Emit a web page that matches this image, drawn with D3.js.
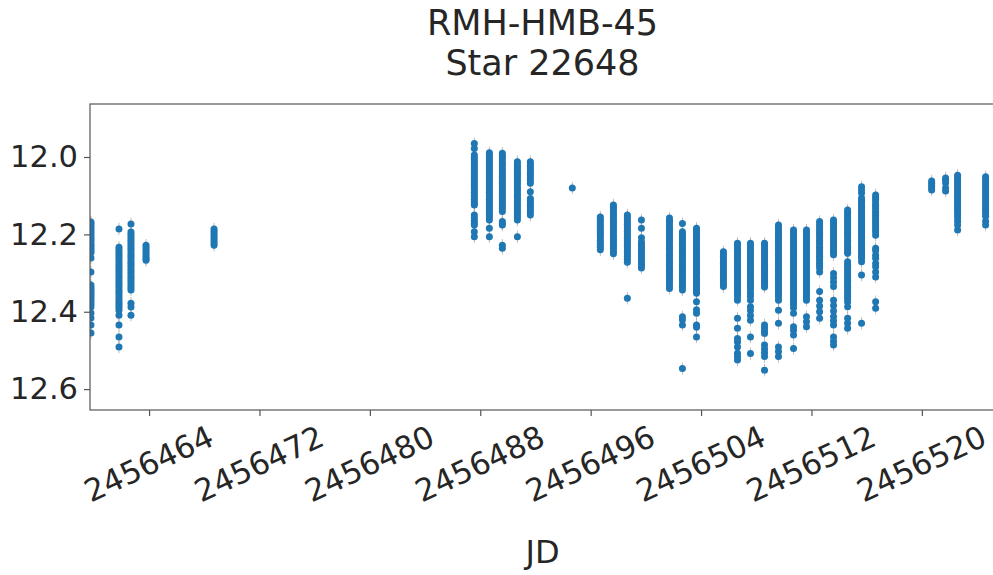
<!DOCTYPE html>
<html>
<head>
<meta charset="utf-8">
<script src="https://cdn.jsdelivr.net/npm/d3@7"></script>
<style>
  html, body { margin: 0; padding: 0; background: #ffffff; }
  svg { display: block; }
  text { font-family: "DejaVu Sans", sans-serif; fill: #262626; }
</style>
</head>
<body>
<svg id="chart" width="993" height="575"></svg>
<script>
// Light curve of star 22648 (field RMH-HMB-45): one entry per observing night.
const titleLines = ["RMH-HMB-45", "Star 22648"];
const xLabel = "JD";

const xTicks = [2456464, 2456472, 2456480, 2456488, 2456496, 2456504, 2456512, 2456520];
const yTicks = [12.0, 12.2, 12.4, 12.6];

// Julian date of each night
const nightJD = [
  2456459.79, 2456461.82, 2456462.69, 2456463.78, 2456468.71,
  2456487.57, 2456488.66, 2456489.60, 2456490.69, 2456491.63,
  2456494.67, 2456496.70, 2456497.65, 2456498.66, 2456499.68,
  2456501.71, 2456502.65, 2456503.67, 2456505.62, 2456506.64,
  2456507.58, 2456508.60, 2456509.61, 2456510.70, 2456511.64,
  2456512.59, 2456513.60, 2456514.62, 2456515.63, 2456516.65,
  2456520.71, 2456521.72, 2456522.59, 2456524.62
];

// Magnitudes measured during each night
const nightMags = [
  [12.168,12.172,12.177,12.183,12.188,12.194,12.199,12.205,12.211,12.216,12.222,12.228,12.233,12.239,12.244,12.248,12.261,12.297,12.331,12.336,12.342,12.347,12.353,12.358,12.364,12.369,12.375,12.381,12.388,12.403,12.416,12.434,12.455],
  [12.186,12.233,12.239,12.245,12.251,12.257,12.263,12.269,12.275,12.281,12.287,12.293,12.299,12.305,12.311,12.317,12.323,12.329,12.335,12.341,12.347,12.353,12.359,12.366,12.372,12.378,12.384,12.390,12.396,12.409,12.434,12.465,12.491],
  [12.173,12.194,12.200,12.206,12.212,12.218,12.224,12.230,12.236,12.242,12.248,12.254,12.260,12.266,12.272,12.278,12.284,12.290,12.296,12.302,12.308,12.314,12.320,12.326,12.332,12.338,12.344,12.378,12.388,12.409],
  [12.228,12.234,12.240,12.246,12.252,12.258,12.263,12.267],
  [12.186,12.192,12.198,12.204,12.210,12.216,12.222,12.228],
  [11.965,11.978,11.995,12.001,12.007,12.013,12.019,12.025,12.031,12.037,12.043,12.049,12.055,12.061,12.067,12.073,12.079,12.085,12.091,12.097,12.103,12.109,12.115,12.121,12.124,12.150,12.157,12.164,12.171,12.176,12.193,12.206],
  [11.989,11.995,12.001,12.007,12.013,12.019,12.025,12.031,12.037,12.043,12.049,12.055,12.061,12.067,12.073,12.079,12.085,12.091,12.097,12.103,12.109,12.115,12.121,12.127,12.133,12.139,12.145,12.151,12.157,12.163,12.184,12.206],
  [11.990,11.996,12.002,12.008,12.014,12.020,12.026,12.032,12.038,12.044,12.050,12.056,12.062,12.068,12.074,12.080,12.086,12.092,12.098,12.104,12.110,12.116,12.122,12.128,12.134,12.141,12.167,12.172,12.176,12.228,12.236],
  [12.012,12.018,12.024,12.030,12.036,12.042,12.048,12.054,12.060,12.066,12.072,12.078,12.084,12.090,12.096,12.102,12.108,12.114,12.120,12.126,12.132,12.138,12.144,12.150,12.156,12.163,12.206],
  [12.012,12.018,12.024,12.030,12.036,12.042,12.048,12.054,12.060,12.068,12.090,12.107,12.113,12.119,12.125,12.131,12.137,12.143,12.150],
  [12.080],
  [12.155,12.161,12.167,12.173,12.179,12.185,12.191,12.197,12.203,12.209,12.215,12.221,12.227,12.233,12.240],
  [12.124,12.130,12.136,12.142,12.148,12.154,12.160,12.166,12.172,12.178,12.184,12.190,12.196,12.202,12.208,12.214,12.220,12.226,12.232,12.238,12.244,12.250],
  [12.150,12.156,12.162,12.168,12.174,12.180,12.186,12.192,12.198,12.204,12.210,12.216,12.222,12.228,12.234,12.240,12.246,12.252,12.258,12.264,12.272,12.365],
  [12.163,12.184,12.209,12.220,12.226,12.232,12.238,12.244,12.250,12.256,12.262,12.268,12.274,12.280,12.287],
  [12.158,12.164,12.170,12.176,12.182,12.188,12.194,12.200,12.206,12.212,12.218,12.224,12.230,12.236,12.242,12.248,12.254,12.260,12.266,12.272,12.278,12.284,12.290,12.296,12.302,12.308,12.314,12.320,12.326,12.333,12.340],
  [12.172,12.193,12.199,12.205,12.211,12.217,12.223,12.229,12.235,12.241,12.247,12.253,12.259,12.265,12.271,12.277,12.283,12.289,12.295,12.301,12.307,12.313,12.319,12.325,12.331,12.337,12.344,12.413,12.421,12.434,12.547],
  [12.184,12.190,12.196,12.202,12.208,12.214,12.220,12.226,12.232,12.238,12.244,12.250,12.256,12.262,12.268,12.274,12.280,12.286,12.292,12.298,12.304,12.310,12.316,12.322,12.328,12.334,12.340,12.346,12.352,12.374,12.395,12.404,12.434,12.440,12.465],
  [12.245,12.251,12.257,12.263,12.269,12.275,12.281,12.287,12.293,12.299,12.305,12.311,12.317,12.323,12.329,12.335],
  [12.223,12.229,12.235,12.241,12.247,12.253,12.259,12.265,12.271,12.277,12.283,12.289,12.295,12.301,12.307,12.313,12.319,12.325,12.331,12.337,12.343,12.349,12.355,12.361,12.370,12.417,12.443,12.469,12.478,12.491,12.507,12.516,12.525],
  [12.223,12.229,12.235,12.241,12.247,12.253,12.259,12.265,12.271,12.277,12.283,12.289,12.295,12.301,12.307,12.313,12.319,12.325,12.331,12.337,12.343,12.352,12.360,12.370,12.387,12.397,12.410,12.422,12.465,12.508],
  [12.223,12.229,12.235,12.241,12.247,12.253,12.259,12.265,12.271,12.277,12.283,12.289,12.295,12.301,12.307,12.313,12.319,12.325,12.331,12.336,12.434,12.442,12.450,12.456,12.486,12.496,12.506,12.516,12.551],
  [12.176,12.182,12.188,12.194,12.200,12.206,12.212,12.218,12.224,12.230,12.236,12.242,12.248,12.254,12.260,12.266,12.272,12.278,12.284,12.290,12.296,12.302,12.308,12.314,12.320,12.326,12.332,12.338,12.344,12.350,12.356,12.362,12.370,12.396,12.430,12.491,12.503,12.516],
  [12.189,12.195,12.201,12.207,12.213,12.219,12.225,12.231,12.237,12.243,12.249,12.255,12.261,12.267,12.273,12.279,12.285,12.291,12.297,12.303,12.309,12.315,12.321,12.327,12.333,12.339,12.345,12.351,12.357,12.363,12.369,12.375,12.381,12.390,12.404,12.439,12.448,12.460,12.495],
  [12.189,12.195,12.201,12.207,12.213,12.219,12.225,12.231,12.237,12.243,12.249,12.255,12.261,12.267,12.273,12.279,12.285,12.291,12.297,12.303,12.309,12.315,12.321,12.327,12.333,12.339,12.345,12.351,12.357,12.363,12.370,12.413,12.426,12.439],
  [12.167,12.173,12.179,12.185,12.191,12.197,12.203,12.209,12.215,12.221,12.227,12.233,12.239,12.245,12.251,12.257,12.263,12.269,12.275,12.281,12.287,12.297,12.348,12.370,12.385,12.400,12.417],
  [12.163,12.169,12.175,12.181,12.187,12.193,12.199,12.205,12.211,12.217,12.223,12.229,12.235,12.241,12.247,12.253,12.301,12.312,12.323,12.335,12.370,12.384,12.398,12.412,12.423,12.434,12.465,12.476,12.486],
  [12.137,12.143,12.149,12.155,12.161,12.167,12.173,12.179,12.185,12.191,12.197,12.203,12.209,12.215,12.221,12.227,12.233,12.239,12.244,12.249,12.271,12.277,12.283,12.289,12.295,12.301,12.307,12.313,12.319,12.325,12.331,12.337,12.343,12.349,12.355,12.361,12.367,12.375,12.387,12.417,12.430,12.443],
  [12.077,12.085,12.093,12.106,12.112,12.118,12.124,12.130,12.136,12.142,12.148,12.154,12.160,12.166,12.172,12.178,12.184,12.190,12.196,12.202,12.208,12.214,12.220,12.226,12.232,12.238,12.244,12.250,12.256,12.262,12.271,12.305,12.430],
  [12.098,12.104,12.110,12.116,12.122,12.128,12.134,12.140,12.146,12.152,12.158,12.164,12.170,12.176,12.182,12.188,12.194,12.202,12.236,12.242,12.254,12.262,12.275,12.284,12.297,12.310,12.374,12.391],
  [12.062,12.068,12.074,12.080,12.085],
  [12.054,12.060,12.067,12.080,12.088],
  [12.047,12.053,12.059,12.065,12.071,12.077,12.083,12.089,12.095,12.101,12.107,12.113,12.119,12.125,12.131,12.137,12.143,12.150,12.158,12.166,12.176,12.189],
  [12.051,12.057,12.063,12.069,12.075,12.081,12.087,12.093,12.099,12.105,12.111,12.117,12.123,12.129,12.135,12.141,12.147,12.153,12.166,12.176]
];

const points = nightJD.flatMap((jd, i) => nightMags[i].map(m => ({ jd, mag: m })));

const svg = d3.select("#chart");
const margin = { left: 90, top: 104, right: 995, bottom: 410 };

const x = d3.scaleLinear()
  .domain([2456459.72, 2456525.30])
  .range([margin.left, margin.right]);

// Magnitudes: brighter (smaller) values at the top
const y = d3.scaleLinear()
  .domain([11.863, 12.654])
  .range([margin.top, margin.bottom]);

svg.append("defs").append("clipPath").attr("id", "plotClip")
  .append("rect")
  .attr("x", margin.left).attr("y", margin.top)
  .attr("width", margin.right - margin.left)
  .attr("height", margin.bottom - margin.top);

const plot = svg.append("g").attr("clip-path", "url(#plotClip)");

// Photometric error bars
const errMag = 0.016;
plot.append("g")
  .selectAll("line")
  .data(points)
  .join("line")
  .attr("x1", d => x(d.jd)).attr("x2", d => x(d.jd))
  .attr("y1", d => y(d.mag - errMag)).attr("y2", d => y(d.mag + errMag))
  .attr("stroke", "#8c8c8c")
  .attr("stroke-opacity", 0.55)
  .attr("stroke-width", 1);

// Measurements
plot.append("g")
  .selectAll("circle")
  .data(points)
  .join("circle")
  .attr("cx", d => x(d.jd))
  .attr("cy", d => y(d.mag))
  .attr("r", 3.5)
  .attr("fill", "#1f77b4");

// Axes
const spineColor = "#555555";

const yAxis = svg.append("g")
  .attr("transform", `translate(${margin.left},0)`)
  .call(d3.axisLeft(y).tickValues(yTicks).tickFormat(d3.format(".1f")).tickSize(6).tickPadding(6));
yAxis.select(".domain").remove();
yAxis.selectAll(".tick line").attr("stroke", spineColor).attr("stroke-width", 1.2);
yAxis.selectAll(".tick text")
  .attr("fill", "#262626")
  .style("font-size", "30.5px")
  .style("font-family", "DejaVu Sans, sans-serif");

const xAxis = svg.append("g")
  .attr("transform", `translate(0,${margin.bottom})`)
  .call(d3.axisBottom(x).tickValues(xTicks).tickFormat(d3.format("d")).tickSize(6));
xAxis.select(".domain").remove();
xAxis.selectAll(".tick line").attr("stroke", spineColor).attr("stroke-width", 1.2);

// Rotated JD labels, centred under each tick
const labelAngle = 25;
const xFont = 31;
xAxis.selectAll(".tick text").each(function () {
  const t = d3.select(this);
  t.attr("fill", "#262626")
    .style("font-size", xFont + "px")
    .style("font-family", "DejaVu Sans, sans-serif");
  const w = this.getComputedTextLength();
  const a = labelAngle * Math.PI / 180;
  const h = xFont * 0.75;
  const bboxH = w * Math.sin(a) + h * Math.cos(a);
  const cy = 14 + bboxH / 2;
  t.attr("x", 0).attr("y", 0).attr("dy", null)
    .attr("text-anchor", "middle")
    .attr("dominant-baseline", "central")
    .attr("transform", `translate(-1,${cy}) rotate(${-labelAngle})`);
});

// Frame
svg.append("rect")
  .attr("x", margin.left).attr("y", margin.top)
  .attr("width", margin.right - margin.left)
  .attr("height", margin.bottom - margin.top)
  .attr("fill", "none")
  .attr("stroke", spineColor)
  .attr("stroke-width", 1.2);

// Title
const cx = (margin.left + margin.right) / 2;
svg.append("text")
  .attr("x", cx).attr("y", 35)
  .attr("text-anchor", "middle")
  .style("font-size", "35px")
  .text(titleLines[0]);
svg.append("text")
  .attr("x", cx).attr("y", 75)
  .attr("text-anchor", "middle")
  .style("font-size", "35px")
  .text(titleLines[1]);

// Axis label
svg.append("text")
  .attr("x", cx).attr("y", 563)
  .attr("text-anchor", "middle")
  .style("font-size", "32px")
  .text(xLabel);
</script>
</body>
</html>
